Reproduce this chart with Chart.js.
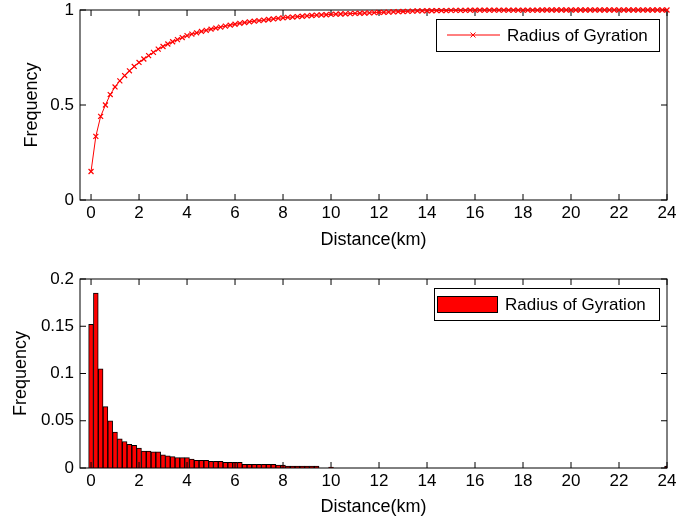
<!DOCTYPE html>
<html>
<head>
<meta charset="utf-8">
<script src="https://cdn.jsdelivr.net/npm/chart.js@4"></script>
<style>
    body { margin: 0; background: #fff; }
    canvas { position: absolute; left: 0; }
    #cdfChart { top: 0; }
    #histChart { top: 260px; }
</style>
</head>
<body>
<canvas id="cdfChart" width="676" height="260"></canvas>
<canvas id="histChart" width="676" height="261"></canvas>
<script>
// bin centres (km)
const distances = [
    0, 0.2, 0.4, 0.6, 0.8, 1, 1.2, 1.4, 1.6, 1.8,
    2, 2.2, 2.4, 2.6, 2.8, 3, 3.2, 3.4, 3.6, 3.8,
    4, 4.2, 4.4, 4.6, 4.8, 5, 5.2, 5.4, 5.6, 5.8,
    6, 6.2, 6.4, 6.6, 6.8, 7, 7.2, 7.4, 7.6, 7.8,
    8, 8.2, 8.4, 8.6, 8.8, 9, 9.2, 9.4, 9.6, 9.8,
    10, 10.2, 10.4, 10.6, 10.8, 11, 11.2, 11.4, 11.6, 11.8,
    12, 12.2, 12.4, 12.6, 12.8, 13, 13.2, 13.4, 13.6, 13.8,
    14, 14.2, 14.4, 14.6, 14.8, 15, 15.2, 15.4, 15.6, 15.8,
    16, 16.2, 16.4, 16.6, 16.8, 17, 17.2, 17.4, 17.6, 17.8,
    18, 18.2, 18.4, 18.6, 18.8, 19, 19.2, 19.4, 19.6, 19.8,
    20, 20.2, 20.4, 20.6, 20.8, 21, 21.2, 21.4, 21.6, 21.8,
    22, 22.2, 22.4, 22.6, 22.8, 23, 23.2, 23.4, 23.6, 23.8,
    24
];

// cumulative frequency (top panel)
const cdfValues = [
    0.150, 0.335, 0.440, 0.500, 0.555, 0.595, 0.627, 0.655, 0.680, 0.703,
    0.724, 0.742, 0.760, 0.777, 0.794, 0.808, 0.821, 0.833, 0.844, 0.855,
    0.865, 0.873, 0.880, 0.887, 0.893, 0.899, 0.905, 0.910, 0.915, 0.920,
    0.925, 0.930, 0.934, 0.938, 0.941, 0.944, 0.947, 0.950, 0.953, 0.956,
    0.959, 0.961, 0.963, 0.965, 0.967, 0.969, 0.971, 0.973, 0.974, 0.975,
    0.977, 0.978, 0.979, 0.980, 0.981, 0.982, 0.983, 0.984, 0.985, 0.986,
    0.987, 0.988, 0.989, 0.990, 0.991, 0.992, 0.993, 0.994, 0.995, 0.995,
    0.996, 0.996, 0.997, 0.997, 0.997, 0.998, 0.998, 0.998, 0.998, 0.999,
    0.999, 0.999, 0.999, 0.999, 0.999, 0.999, 0.999, 0.999, 0.999, 0.999,
    0.999, 0.999, 0.999, 0.999, 1, 1, 1, 1, 1, 1,
    1, 1, 1, 1, 1, 1, 1, 1, 1, 1,
    1, 1, 1, 1, 1, 1, 1, 1, 1, 1,
    1
];

// frequency per bin (bottom panel)
const freqValues = [
    0.152, 0.185, 0.105, 0.065, 0.050, 0.038, 0.031, 0.028, 0.025, 0.024,
    0.021, 0.018, 0.018, 0.017, 0.017, 0.014, 0.013, 0.012, 0.011, 0.011,
    0.011, 0.0095, 0.008, 0.008, 0.008, 0.007, 0.007, 0.007, 0.006, 0.006,
    0.006, 0.006, 0.004, 0.004, 0.004, 0.004, 0.004, 0.004, 0.004, 0.003,
    0.003, 0.002, 0.002, 0.002, 0.002, 0.002, 0.002, 0.002, 0, 0,
    0.001, 0, 0, 0, 0, 0, 0, 0, 0, 0,
    0, 0, 0, 0, 0, 0, 0, 0, 0, 0,
    0, 0, 0, 0, 0, 0, 0, 0, 0, 0,
    0, 0, 0, 0, 0, 0, 0, 0, 0, 0,
    0, 0, 0, 0, 0, 0, 0, 0, 0, 0,
    0, 0, 0, 0, 0, 0, 0, 0, 0, 0,
    0, 0, 0, 0, 0, 0, 0, 0, 0, 0,
    0.002
];

const xTicks = [0, 2, 4, 6, 8, 10, 12, 14, 16, 18, 20, 22, 24];
const cdfYTicks = [0, 0.5, 1];
const freqYTicks = [0, 0.05, 0.1, 0.15, 0.2];
const seriesLabel = 'Radius of Gyration';

Chart.defaults.font.family = 'Arial, "Liberation Sans", sans-serif';
Chart.defaults.font.size = 17;
Chart.defaults.color = '#000';

const TICK_LEN = 6;

// matlab style box with inward ticks on all four sides
const matlabAxes = {
    id: 'matlabAxes',
    draw(chart) {
        const { ctx, chartArea: a, scales: { x, y } } = chart;
        ctx.save();
        ctx.strokeStyle = '#000';
        ctx.lineWidth = 1;
        ctx.strokeRect(a.left, a.top, a.right - a.left, a.bottom - a.top);
        ctx.beginPath();
        x.ticks.forEach(t => {
            const px = x.getPixelForValue(t.value);
            ctx.moveTo(px, a.bottom);
            ctx.lineTo(px, a.bottom - TICK_LEN);
            ctx.moveTo(px, a.top);
            ctx.lineTo(px, a.top + TICK_LEN);
        });
        y.ticks.forEach(t => {
            const py = y.getPixelForValue(t.value);
            ctx.moveTo(a.left, py);
            ctx.lineTo(a.left + TICK_LEN, py);
            ctx.moveTo(a.right, py);
            ctx.lineTo(a.right - TICK_LEN, py);
        });
        ctx.stroke();
        ctx.restore();
    },
    beforeDatasetsDraw(chart, args, opts) {
        if (!opts.onTop) this.draw(chart);
    },
    afterDatasetsDraw(chart, args, opts) {
        if (opts.onTop) this.draw(chart);
    }
};

// boxed legend inside the plot, like the matlab one
const boxLegend = {
    id: 'boxLegend',
    afterDraw(chart, args, opts) {
        const ctx = chart.ctx;
        const ds = chart.data.datasets[0];
        const { left, top, width, height } = opts;
        const midY = top + height / 2;
        ctx.save();
        ctx.fillStyle = '#fff';
        ctx.fillRect(left, top, width, height);
        ctx.strokeStyle = '#000';
        ctx.lineWidth = 1;
        ctx.strokeRect(left + 0.5, top + 0.5, width, height);

        if (opts.kind === 'line') {
            ctx.strokeStyle = ds.borderColor;
            ctx.beginPath();
            ctx.moveTo(left + 11, midY);
            ctx.lineTo(left + 64, midY);
            const cx = left + 37, r = 2.5;
            ctx.moveTo(cx - r, midY - r);
            ctx.lineTo(cx + r, midY + r);
            ctx.moveTo(cx - r, midY + r);
            ctx.lineTo(cx + r, midY - r);
            ctx.stroke();
        } else {
            ctx.fillStyle = ds.backgroundColor;
            ctx.fillRect(left + 3, top + 8, 60, height - 16);
            ctx.strokeStyle = ds.borderColor;
            ctx.strokeRect(left + 3.5, top + 8.5, 60, height - 16);
        }

        ctx.fillStyle = '#000';
        ctx.font = '17px Arial, "Liberation Sans", sans-serif';
        ctx.textBaseline = 'middle';
        ctx.fillText(ds.label, left + 71, midY + 1);
        ctx.restore();
    }
};

function xScale(titlePad) {
    return {
        type: 'linear',
        min: -0.46,
        max: 24,
        offset: false,
        grid: { display: false, drawTicks: false },
        border: { display: false },
        ticks: { padding: 3, autoSkip: false, maxRotation: 0 },
        afterBuildTicks: scale => {
            scale.ticks = xTicks.map(v => ({ value: v }));
        },
        afterFit: scale => {
            scale.height = scale.chart.height - scale.chart.options.layout.padding.top
                - (scale.chart.canvas.id === 'cdfChart' ? 190 : 189);
            scale.paddingLeft = 0;
            scale.paddingRight = 0;
        },
        title: {
            display: true,
            text: 'Distance(km)',
            font: { size: 18 },
            padding: { top: 0, bottom: titlePad }
        }
    };
}

function yScale(max, yTicks, titlePad) {
    return {
        type: 'linear',
        min: 0,
        max: max,
        grid: { display: false, drawTicks: false },
        border: { display: false },
        ticks: {
            padding: 6,
            callback: value => String(value)
        },
        afterBuildTicks: scale => {
            scale.ticks = yTicks.map(v => ({ value: v }));
        },
        afterFit: scale => {
            scale.width = 80;
            scale.paddingTop = 0;
            scale.paddingBottom = 0;
        },
        title: {
            display: true,
            text: 'Frequency',
            font: { size: 18 },
            padding: { top: titlePad, bottom: 0 }
        }
    };
}

new Chart('cdfChart', {
    type: 'line',
    data: {
        datasets: [{
            label: seriesLabel,
            data: distances.map((d, i) => ({ x: d, y: cdfValues[i] })),
            borderColor: '#ff0000',
            backgroundColor: '#ff0000',
            borderWidth: 1,
            pointStyle: 'crossRot',
            pointRadius: 3.5,
            pointBorderWidth: 1.2,
            pointBorderColor: '#ff0000',
            tension: 0,
            clip: false
        }]
    },
    options: {
        responsive: false,
        animation: false,
        layout: { padding: { top: 10, right: 9, bottom: 0, left: 0 } },
        scales: {
            x: xScale(9),
            y: yScale(1, cdfYTicks, 21)
        },
        plugins: {
            legend: { display: false },
            tooltip: { enabled: false },
            matlabAxes: { onTop: false },
            boxLegend: { kind: 'line', left: 436, top: 19, width: 223, height: 32 }
        }
    },
    plugins: [matlabAxes, boxLegend]
});

new Chart('histChart', {
    type: 'bar',
    data: {
        datasets: [{
            label: seriesLabel,
            data: distances.map((d, i) => ({ x: d, y: freqValues[i] })),
            backgroundColor: '#ff0000',
            borderColor: '#000000',
            borderWidth: 1,
            barPercentage: 1,
            categoryPercentage: 1
        }]
    },
    options: {
        responsive: false,
        animation: false,
        layout: { padding: { top: 19, right: 9, bottom: 0, left: 0 } },
        scales: {
            x: xScale(3),
            y: yScale(0.2, freqYTicks, 10)
        },
        plugins: {
            legend: { display: false },
            tooltip: { enabled: false },
            matlabAxes: { onTop: true },
            boxLegend: { kind: 'bar', left: 434, top: 28, width: 225, height: 32 }
        }
    },
    plugins: [matlabAxes, boxLegend]
});
</script>
</body>
</html>
